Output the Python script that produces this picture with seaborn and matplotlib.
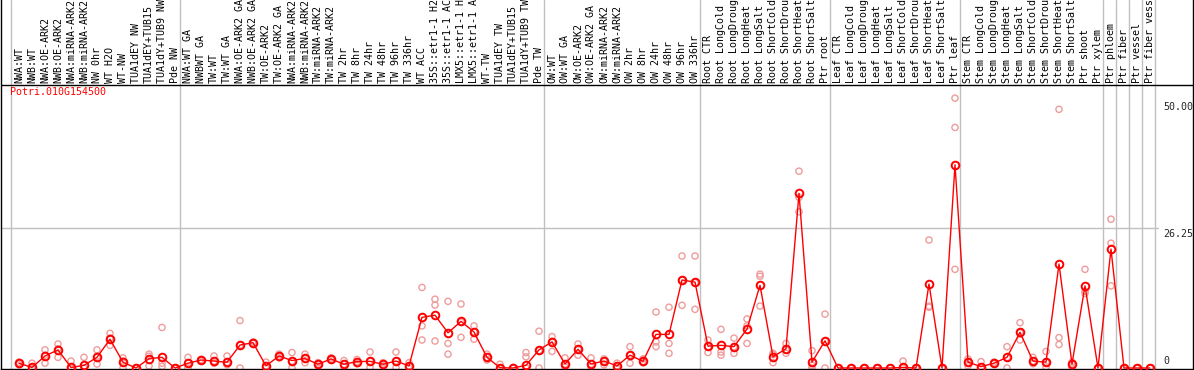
import numpy as np
import pandas as pd
import matplotlib
matplotlib.use("Agg")
import matplotlib.pyplot as plt
import seaborn as sns

gene = "Potri.010G154500"

labels = [
    "NWA:WT", "NWB:WT", "NWA:OE-ARK2", "NWB:OE-ARK2", "NWA:miRNA-ARK2", "NWB:miRNA-ARK2",
    "NW 0hr", "WT H2O", "WT-NW", "TUA1dEY NW", "TUA1dEY+TUB15", "TUA1dY+TUB9 NW", "Pde NW",
    "NWA:WT GA", "NWBWT GA", "TW:WT", "TW:WT GA", "NWA:OE-ARK2 GA", "NWB:OE-ARK2 GA",
    "TW:OE-ARK2", "TW:OE-ARK2 GA", "NWA:miRNA-ARK2", "NWB:miRNA-ARK2", "TW:miRNA-ARK2",
    "TW:miRNA-ARK2", "TW 2hr", "TW 8hr", "TW 24hr", "TW 48hr", "TW 96hr", "TW 336hr",
    "WT ACC", "35S::etr1-1 H2", "35S::etr1-1 AC", "LMX5::etr1-1 H", "LMX5::etr1-1 A",
    "WT-TW", "TUA1dEY TW", "TUA1dEY+TUB15", "TUA1dY+TUB9 TW", "Pde TW",
    "OW:WT", "OW:WT GA", "OW:OE-ARK2", "OW:OE-ARK2 GA", "OW:miRNA-ARK2", "OW:miRNA-ARK2",
    "OW 2hr", "OW 8hr", "OW 24hr", "OW 48hr", "OW 96hr", "OW 336hr",
    "Root CTR", "Root LongCold", "Root LongDroug", "Root LongHeat", "Root LongSalt",
    "Root ShortCold", "Root ShortDrou", "Root ShortHeat", "Root ShortSalt", "Ptr root",
    "Leaf CTR", "Leaf LongCold", "Leaf LongDroug", "Leaf LongHeat", "Leaf LongSalt",
    "Leaf ShortCold", "Leaf ShortDrou", "Leaf ShortHeat", "Leaf ShortSalt", "Ptr leaf",
    "Stem CTR", "Stem LongCold", "Stem LongDroug", "Stem LongHeat", "Stem LongSalt",
    "Stem ShortCold", "Stem ShortDrou", "Stem ShortHeat", "Stem ShortSalt", "Ptr shoot",
    "Ptr xylem", "Ptr phloem", "Ptr fiber", "Ptr vessel", "Ptr fiber vess",
]
group_sizes = [13, 28, 12, 10, 10, 11, 1, 1, 1, 1]

means = [
    0.9, 0.1, 2.25, 3.4, 0.1, 0.5, 2.0, 5.4, 1.07, 0.0, 1.75, 2.0, 0.0,
    0.9, 1.5, 1.3, 1.07, 4.3, 4.75, 0.4, 2.25, 1.4, 1.8, 0.7, 1.7, 0.7, 1.2, 1.25,
    0.7, 1.3, 0.4, 9.5, 9.9, 6.6, 8.75, 6.75, 2.0, 0.05, 0.0, 0.5, 3.4,
    4.9, 0.75, 3.5, 0.75, 1.3, 0.4, 2.4, 1.25, 6.3, 6.3, 16.5, 16.1,
    4.1, 4.25, 4.0, 7.3, 15.5, 2.1, 3.6, 32.75, 1.1, 5.1,
    0.0, 0.0, 0.0, 0.0, 0.0, 0.1, 0.0, 15.75, 0.0, 38.1,
    1.1, 0.25, 0.9, 2.0, 6.7, 1.3, 1.1, 19.5, 0.75, 15.4, 0.0,
    22.3, 0.0, 0.0, 0.0,
]
rep_a = [
    1.1, 0.9, 3.4, 4.5, 1.3, 2.0, 3.4, 6.5, 1.9, 0.0, 2.6, 7.6, 0.0,
    2.0, 1.6, 2.25, 2.25, 8.9, 4.9, 1.1, 2.6, 2.9, 2.6, 1.0, 1.9, 1.4, 1.6, 3.0,
    1.0, 3.0, 1.0, 15.1, 12.9, 12.5, 12.0, 7.9, 2.6, 0.7, 0.1, 2.9, 6.9,
    5.9, 1.9, 4.5, 1.9, 1.7, 0.9, 4.0, 1.7, 10.5, 11.4, 21.0, 21.0,
    5.25, 7.25, 5.6, 9.2, 17.6, 2.75, 4.6, 36.9, 3.25, 10.1,
    0.0, 0.0, 0.0, 0.0, 0.0, 1.3, 0.0, 24.0, 0.0, 50.6,
    1.7, 1.2, 1.1, 4.0, 8.5, 2.0, 3.1, 48.5, 1.1, 18.5, 0.0,
    27.9, 0.0, 0.0, 0.0,
]
rep_b = [
    0.6, 0.0, 0.9, 2.0, 0.0, 0.0, 0.75, 4.25, 0.0, 0.0, 0.4, 0.9, 0.0,
    0.0, 1.3, 0.9, 0.6, 0.0, 4.6, 0.0, 1.9, 0.0, 1.0, 0.4, 1.5, 0.2, 0.8, 0.1,
    0.4, 0.1, 0.0, 7.9, 11.8, 4.6, 5.75, 5.4, 1.5, 0.0, 0.0, 2.1, 0.0,
    3.1, 0.2, 2.4, 0.2, 0.6, 0.0, 0.9, 1.0, 4.9, 4.6, 11.75, 11.0,
    2.9, 3.0, 2.75, 7.9, 17.2, 1.0, 2.75, 29.3, 0.0, 0.0,
    0.0, 0.0, 0.0, 0.0, 0.0, 0.0, 0.0, 11.6, 0.0, 45.1,
    0.4, 0.0, 0.8, 0.0, 5.25, 0.8, 0.2, 5.7, 0.2, 14.0, 0.0,
    23.4, 0.0, 0.0, 0.0,
]
rep_c = [
    1.0, 0.0, 2.4, 3.6, 0.0, 0.0, 2.2, 5.6, 1.3, 0.0, 2.2, 0.3, 0.0,
    1.0, 1.5, 1.3, 1.07, 4.3, 4.75, 0.4, 2.25, 1.3, 1.8, 0.7, 1.7, 0.7, 1.2, 1.25,
    0.7, 1.3, 0.4, 5.25, 5.06, 2.6, 8.6, 6.8, 2.0, 0.0, 0.0, 0.0, 3.3,
    5.0, 0.75, 3.5, 0.75, 1.3, 0.4, 2.4, 1.25, 4.0, 2.75, 16.5, 16.0,
    4.0, 2.4, 4.0, 4.6, 11.6, 2.5, 3.4, 32.0, 0.5, 5.0,
    0.0, 0.0, 0.0, 0.0, 0.0, 0.0, 0.0, 11.4, 0.0, 18.5,
    1.1, 0.25, 0.9, 2.0, 6.6, 1.3, 1.1, 4.4, 0.75, 14.4, 0.0,
    15.4, 0.0, 0.0, 0.0,
]
tick_values = [50.0, 26.25, 0]
tick_texts = ["50.00", "26.25", "0"]

idx = np.arange(len(labels))
reps = pd.DataFrame({"idx": idx, "a": rep_a, "b": rep_b, "c": rep_c})
reps = reps.melt(id_vars="idx", value_name="val")

sns.set_style("white")
mono = "DejaVu Sans Mono"

W, H = 1194, 370
fig = plt.figure(figsize=(W / 100, H / 100), dpi=100)
ax = fig.add_axes([1 / W, 1 / H, 1192 / W, 369 / H])

# pixel layout: columns every 13px starting at x=19, value 0 at y=368, 26.25 -> 140px
step = 13.0
ppu = 140 / 26.25
ax.set_xlim((1 - 19) / step, (1193 - 19) / step)
ax.set_ylim((368 - 369) / ppu, 368 / ppu)
header = (368 - 85) / ppu

sns.scatterplot(data=reps, x="idx", y="val", ax=ax, s=20, marker="o",
                facecolors="none", edgecolor="#ee9c9c", linewidth=1.0,
                zorder=2, legend=False)
sns.lineplot(x=idx, y=means, ax=ax, color="red", lw=1.0, marker="o",
             markersize=5.5, markerfacecolor="none", markeredgecolor="red",
             markeredgewidth=1.4, zorder=3)

ax.axhline(header, color="black", lw=1.0, zorder=4)
ax.axhline(26.25, xmax=(1158 - 1) / 1192, color="#c0c0c0", lw=1.0, zorder=1)
bounds = np.cumsum([0] + group_sizes)
for b in bounds:
    ax.axvline(b - 0.6, color="#c0c0c0", lw=1.0, zorder=1)

for i, lab in enumerate(labels):
    ax.text(i, header + 0.35, lab, rotation=90, ha="center", va="bottom",
            family=mono, fontsize=7.2, color="black")

ax.text((10 - 1) / 1192, header - 0.35, gene, transform=ax.get_yaxis_transform(),
        ha="left", va="top", family=mono, fontsize=7.2, color="red")

ytrans = ax.get_yaxis_transform()
for v, t in zip(tick_values, tick_texts):
    ax.text((1163 - 1) / 1192, v - 0.2 if v else 0.4, t, transform=ytrans,
            ha="left", va="top" if v else "bottom", family=mono, fontsize=7.2)

ax.set_xticks([])
ax.set_yticks([])
ax.set_xlabel("")
ax.set_ylabel("")
ax.spines["top"].set_visible(False)
for s in ["left", "right", "bottom"]:
    ax.spines[s].set_color("black")
    ax.spines[s].set_linewidth(1.0)

fig.savefig("out.png", dpi=100)
